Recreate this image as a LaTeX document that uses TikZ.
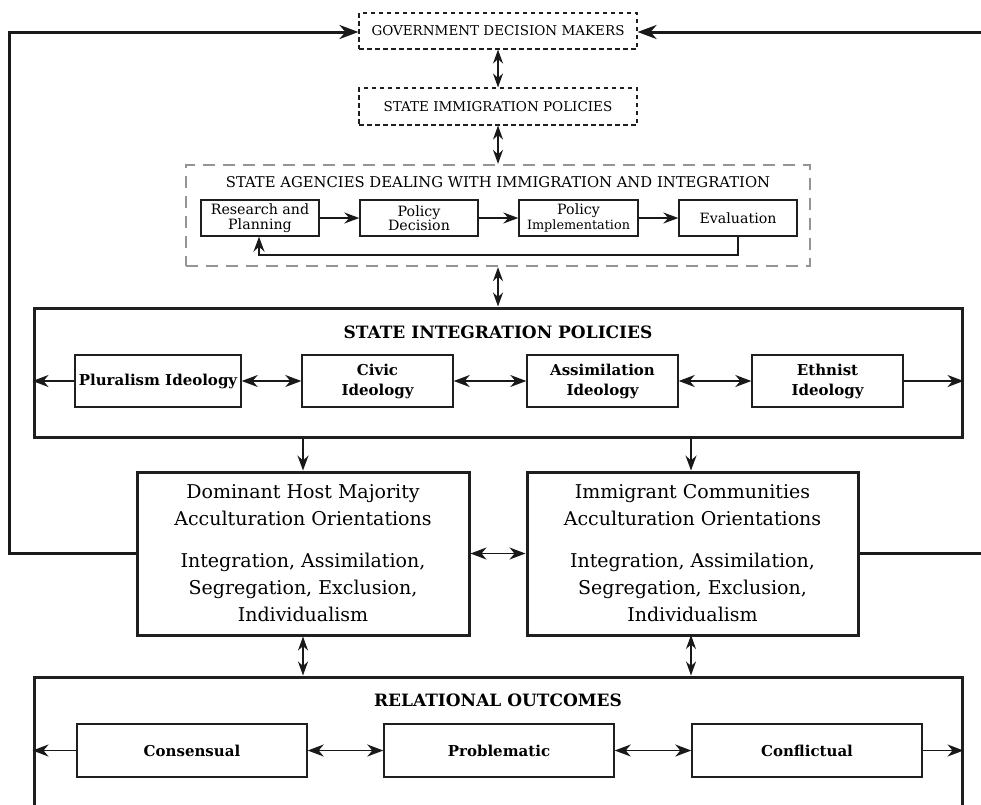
\documentclass[tikz,border=0pt]{standalone}
\usepackage{fontspec}
\setmainfont{DejaVu Serif}
\usetikzlibrary{arrows.meta}
\begin{document}
\begin{tikzpicture}[x=1pt,y=-1pt,
  ink/.style={draw=black!88},
  dashbox/.style={ink,line width=1.1pt,dash pattern=on 4.5pt off 3.5pt,inner sep=0pt,
     font=\fontsize{13.5}{15}\selectfont},
  agbox/.style={draw=black!42,line width=2.3pt,dash pattern=on 12pt off 8pt,inner sep=0pt},
  bigbox/.style={ink,line width=3pt,inner sep=0pt},
  midbox/.style={ink,line width=3pt,inner sep=0pt,align=center,
     font=\fontsize{19}{27}\selectfont},
  stepbox/.style={ink,line width=1.4pt,inner sep=0pt,align=center,
     font=\fontsize{14.2}{14.5}\selectfont},
  ideobox/.style={ink,line width=1.4pt,inner sep=0pt,align=center,
     font=\fontsize{15}{20}\selectfont\bfseries},
  title/.style={inner sep=0pt},
  tip/.style={-{Stealth[length=16pt,width=12pt,inset=5pt]}},
  dtip/.style={{Stealth[length=16pt,width=12pt,inset=5pt]}-{Stealth[length=16pt,width=12pt,inset=5pt]}},
  vtip/.style={{Stealth[length=14pt,width=10pt,inset=4.5pt]}-{Stealth[length=14pt,width=10pt,inset=4.5pt]}},
  stip/.style={-{Stealth[length=15pt,width=11pt,inset=5pt]}},
  ftip/.style={-{Stealth[length=19pt,width=14pt,inset=6pt]}},
  conn/.style={black!90,line width=1.5pt},
  fb/.style={black!90,line width=3pt}
]
\clip (0,0) rectangle (981,804);
\fill[white] (0,0) rectangle (981,804);

% top boxes
\node[dashbox,minimum width=278pt,minimum height=36pt] (gov) at (498,31) {GOVERNMENT DECISION MAKERS};
\node[dashbox,minimum width=278pt,minimum height=37pt] (imp) at (498,106.5) {STATE IMMIGRATION POLICIES};

% agencies
\node[agbox,minimum width=624pt,minimum height=101pt] (ag) at (498,215.5) {};
\node[title,font=\fontsize{14.8}{16}\selectfont] (agt) at (498,182) {STATE AGENCIES DEALING WITH IMMIGRATION AND INTEGRATION};
\node[stepbox,minimum width=118pt,minimum height=36pt] (rp) at (260,218) {Research and\\Planning};
\node[stepbox,minimum width=118pt,minimum height=36pt] (pd) at (419,218) {Policy\\Decision};
\node[stepbox,minimum width=119pt,minimum height=36pt] (pim) at (578.5,218) {Policy\\{\fontsize{12.8}{14}\selectfont Implementation}};
\node[stepbox,minimum width=118pt,minimum height=36pt] (ev) at (738,218) {Evaluation};
\draw[conn,stip] (rp) -- (pd);
\draw[conn,stip] (pd) -- (pim);
\draw[conn,stip] (pim) -- (ev);
\coordinate (fbr) at (738,255);
\coordinate (fbl) at (259,255);
\draw[conn,stip] (ev.south) -- (fbr) -- (fbl) -- (fbl |- rp.south);

% state integration policies
\node[bigbox,minimum width=928pt,minimum height=129pt] (ip) at (498,372.5) {};
\node[title,font=\fontsize{17}{19}\selectfont\bfseries] (ipt) at (498,332) {STATE INTEGRATION POLICIES};
\node[ideobox,minimum width=166pt,minimum height=52pt] (plu) at (158,381) {Pluralism Ideology};
\node[ideobox,minimum width=151pt,minimum height=52pt] (civ) at (377.5,381) {Civic\\Ideology};
\node[ideobox,minimum width=151pt,minimum height=52pt] (asi) at (602.5,381) {Assimilation\\Ideology};
\node[ideobox,minimum width=151pt,minimum height=52pt] (eth) at (827.5,381) {Ethnist\\Ideology};
\draw[conn,tip] (plu.west) -- (plu.west -| ip.west);
\draw[conn,dtip] (plu) -- (civ);
\draw[conn,dtip] (civ) -- (asi);
\draw[conn,dtip] (asi) -- (eth);
\draw[conn,tip] (eth.east) -- (eth.east -| ip.east);

% vertical links at top
\draw[conn,vtip] (gov) -- (imp);
\draw[conn,vtip] (imp) -- (ag);
\draw[conn,vtip] (ag) -- (ip);

% acculturation boxes
\node[midbox,minimum width=332pt,minimum height=163pt] (dom) at (303,553.5)
  {Dominant Host Majority\\Acculturation Orientations\\[15pt]Integration, Assimilation,\\Segregation, Exclusion,\\Individualism};
\node[midbox,minimum width=331pt,minimum height=163pt] (imm) at (692.5,553.5)
  {Immigrant Communities\\Acculturation Orientations\\[15pt]Integration, Assimilation,\\Segregation, Exclusion,\\Individualism};
\draw[conn,stip] (dom.north |- ip.south) -- (dom.north);
\draw[conn,stip] (691,437) coordinate (ipd) -- (ipd |- imm.north);
\draw[conn,dtip] (dom) -- (imm);

% relational outcomes
\node[bigbox,minimum width=928pt,minimum height=160pt] (out) at (498,757) {};
\node[title,font=\fontsize{17}{19}\selectfont\bfseries] (outt) at (498,700) {RELATIONAL OUTCOMES};
\node[ideobox,minimum width=230pt,minimum height=53pt] (con) at (192,750.5) {Consensual};
\node[ideobox,minimum width=230pt,minimum height=53pt] (pro) at (499,750.5) {Problematic};
\node[ideobox,minimum width=230pt,minimum height=53pt] (cnf) at (807,750.5) {Conflictual};
\draw[conn,tip] (con.west) -- (con.west -| out.west);
\draw[conn,dtip] (con) -- (pro);
\draw[conn,dtip] (pro) -- (cnf);
\draw[conn,tip] (cnf.east) -- (cnf.east -| out.east);
\draw[conn,vtip] (dom.south) -- (dom.south |- out.north);
\draw[conn,vtip] (691,635) coordinate (imd) -- (imd |- out.north);

% feedback loops
\coordinate (lt) at (9,32);
\draw[fb,ftip,line join=miter] (dom.west) -| (lt) -- (gov.west |- lt);
\coordinate (rt) at (995,32);
\draw[fb,ftip,line join=miter] (imm.east) -| (rt) -- (gov.east |- rt);
\end{tikzpicture}
\end{document}
